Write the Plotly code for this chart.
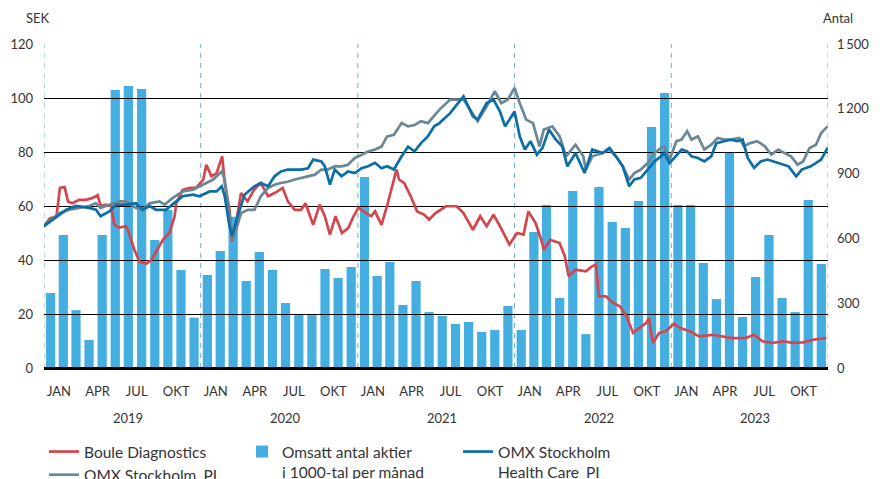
import pandas as pd
import plotly.graph_objects as go

# Omsatt antal aktier (1000-tal) per månad, jan 2019 - dec 2023
MONTHS = pd.date_range("2019-01-01", periods=60, freq="MS")
VOLUME = [
    347, 616, 268, 130, 616, 1287, 1306, 1292, 593, 731, 454, 233,
    430, 542, 700, 403, 537, 454, 301, 245, 245, 458, 417, 468,
    884, 426, 491, 292, 403, 259, 241, 204, 213, 167, 176, 287,
    176, 630, 755, 324, 819, 157, 838, 676, 648, 773, 1116, 1273,
    755, 755, 486, 319, 997, 236, 421, 616, 324, 259, 778, 481,
]

# Boule Diagnostics, SEK
BOULE_DATES = [
    "2019-01-01", "2019-01-15", "2019-01-30", "2019-02-07", "2019-02-18", "2019-02-26",
    "2019-03-08", "2019-03-24", "2019-04-09", "2019-04-24", "2019-05-06", "2019-05-13",
    "2019-05-25", "2019-06-06", "2019-06-14", "2019-06-25", "2019-07-11", "2019-07-18",
    "2019-07-30", "2019-08-11", "2019-08-27", "2019-09-08", "2019-09-19", "2019-10-05",
    "2019-10-20", "2019-11-01", "2019-11-05", "2019-11-20", "2019-12-06", "2019-12-21",
    "2020-01-07", "2020-01-14", "2020-01-26", "2020-02-07", "2020-02-20", "2020-02-26",
    "2020-03-08", "2020-03-14", "2020-03-23", "2020-04-04", "2020-04-19", "2020-05-04",
    "2020-05-20", "2020-06-06", "2020-06-21", "2020-07-10", "2020-07-22", "2020-08-07",
    "2020-08-22", "2020-09-01", "2020-09-19", "2020-10-04", "2020-10-16", "2020-10-28",
    "2020-11-10", "2020-11-25", "2020-12-10", "2020-12-22", "2021-01-02", "2021-01-19",
    "2021-02-01", "2021-02-10", "2021-02-25", "2021-03-10", "2021-03-19", "2021-04-01",
    "2021-04-07", "2021-04-19", "2021-05-04", "2021-05-19", "2021-06-04", "2021-06-16",
    "2021-07-01", "2021-07-25", "2021-08-19", "2021-09-04", "2021-09-26", "2021-10-13",
    "2021-10-28", "2021-11-13", "2021-11-28", "2021-12-20", "2022-01-07", "2022-01-22",
    "2022-02-02", "2022-02-19", "2022-03-04", "2022-03-10", "2022-03-25", "2022-04-16",
    "2022-04-28", "2022-05-07", "2022-05-23", "2022-06-16", "2022-07-01", "2022-07-10",
    "2022-07-16", "2022-08-02", "2022-08-19", "2022-09-04", "2022-09-19", "2022-10-04",
    "2022-10-19", "2022-11-04", "2022-11-10", "2022-11-19", "2022-12-04", "2022-12-19",
    "2023-01-07", "2023-01-22", "2023-02-13", "2023-03-07", "2023-04-07", "2023-05-01",
    "2023-05-22", "2023-06-23", "2023-07-13", "2023-08-01", "2023-08-25", "2023-09-19",
    "2023-10-10", "2023-11-04", "2023-11-28", "2023-12-28",
]
BOULE = [
    52.5, 55.5, 56, 66.7, 67, 61.7,
    61, 62.3, 62.3, 63, 64, 60,
    60.5, 60, 53, 52, 52.5, 50,
    44, 39.5, 38.6, 40, 43, 47.5,
    50, 56, 61, 66, 66.7, 66.7,
    69.8, 75.3, 71, 72.2, 78.4, 68.5,
    58.6, 47, 53.7, 64.8, 61.7, 66,
    68.5, 63.6, 64.8, 66.7, 61.7, 58.6,
    58.6, 61, 53, 60.5, 56.2, 49.4,
    56.2, 50, 51.9, 56.2, 59.3, 57.4,
    56.2, 58, 53, 60, 66, 73.5,
    69.8, 68.5, 63.6, 58, 56.8, 55,
    57.4, 59.9, 59.9, 57.4, 51.2, 56.2,
    52.5, 56.8, 52.5, 45.7, 50, 49.4,
    58, 53.7, 47.5, 43.8, 47.5, 46.3,
    41.4, 34, 36.4, 35.8, 37.7, 38.3,
    26.5, 26.5, 24.1, 22.8, 19.1, 13,
    14.8, 16.7, 18.5, 9.3, 13, 13.6,
    16.4, 14.8, 13.6, 11.7, 12.3, 11.7,
    11.1, 11.1, 12.3, 9.9, 9.3, 9.9,
    9.3, 9.5, 10.5, 11.1,
]

# OMX Stockholm_PI (indexerat)
OMX_DATES = [
    "2019-01-01", "2019-01-22", "2019-02-07", "2019-03-01", "2019-03-24", "2019-04-16",
    "2019-05-02", "2019-05-13", "2019-06-02", "2019-06-25", "2019-07-11", "2019-08-03",
    "2019-08-19", "2019-09-04", "2019-09-27", "2019-10-09", "2019-10-28", "2019-11-20",
    "2019-12-14", "2020-01-07", "2020-01-30", "2020-02-19", "2020-02-26", "2020-03-04",
    "2020-03-16", "2020-04-04", "2020-04-20", "2020-05-05", "2020-05-20", "2020-06-06",
    "2020-06-21", "2020-07-06", "2020-07-22", "2020-08-07", "2020-08-22", "2020-09-04",
    "2020-09-23", "2020-10-08", "2020-10-23", "2020-11-08", "2020-11-24", "2020-12-09",
    "2020-12-25", "2021-01-10", "2021-01-25", "2021-02-10", "2021-02-25", "2021-03-10",
    "2021-03-26", "2021-04-13", "2021-04-28", "2021-05-13", "2021-05-28", "2021-06-13",
    "2021-07-10", "2021-08-04", "2021-09-04", "2021-09-25", "2021-10-07", "2021-10-28",
    "2021-11-16", "2021-12-01", "2021-12-16", "2022-01-01", "2022-01-13", "2022-01-28",
    "2022-02-13", "2022-02-28", "2022-03-10", "2022-03-30", "2022-04-16", "2022-05-01",
    "2022-05-23", "2022-06-10", "2022-06-16", "2022-07-01", "2022-07-25", "2022-08-10",
    "2022-08-25", "2022-09-10", "2022-09-25", "2022-10-07", "2022-10-22", "2022-11-07",
    "2022-11-23", "2022-12-08", "2022-12-16", "2022-12-28", "2023-01-13", "2023-01-25",
    "2023-02-07", "2023-02-17", "2023-03-04", "2023-03-19", "2023-04-04", "2023-04-19",
    "2023-05-04", "2023-05-19", "2023-06-08", "2023-06-19", "2023-07-04", "2023-07-20",
    "2023-08-07", "2023-08-22", "2023-09-07", "2023-09-22", "2023-10-07", "2023-10-22",
    "2023-11-04", "2023-11-19", "2023-12-04", "2023-12-16", "2023-12-31",
]
OMX = [
    52.5, 55.5, 57.4, 58.6, 59.3, 60,
    61, 59.3, 60.5, 61.7, 61.7, 59.3,
    58.6, 61, 61.7, 60.5, 63, 65.4,
    66, 67.9, 69.8, 72.8, 69.8, 61,
    47.5, 57.4, 58.6, 58.6, 63.6, 66.7,
    67.9, 68.5, 69, 69.8, 70.4, 71,
    71.6, 73.5, 73.5, 74.7, 74.7, 75.3,
    77.8, 79, 80.2, 80.9, 82, 85.8,
    86.4, 90.7, 89.5, 90, 91.4, 90.7,
    95.7, 99.4, 99.4, 94.4, 91.4, 96.9,
    102.5, 98.1, 99.4, 103.7, 98.1, 92,
    90.7, 82.1, 88.3, 89.5, 85.8, 78.4,
    82.7, 78.4, 73.5, 78.4, 79.6, 80.9,
    78.4, 74.7, 69.8, 72.2, 73.5, 75.9,
    79.6, 81.5, 82.1, 77.2, 84, 84.6,
    87.7, 84.6, 85.8, 80.9, 82.7, 85.2,
    84.6, 84.6, 85.2, 82.1, 83.3, 84,
    82.1, 79, 80.9, 79.6, 78.4, 75.3,
    76.5, 81.5, 82.7, 87, 89.5,
]

# OMX Stockholm Health Care_PI (indexerat)
HC_DATES = [
    "2019-01-01", "2019-01-22", "2019-02-22", "2019-03-16", "2019-04-16", "2019-05-02",
    "2019-05-13", "2019-06-02", "2019-06-18", "2019-07-11", "2019-08-03", "2019-08-19",
    "2019-09-04", "2019-09-19", "2019-10-12", "2019-11-05", "2019-11-20", "2019-12-14",
    "2019-12-29", "2020-01-22", "2020-02-07", "2020-02-19", "2020-02-26", "2020-03-08",
    "2020-03-14", "2020-03-27", "2020-04-12", "2020-05-05", "2020-05-20", "2020-06-06",
    "2020-06-21", "2020-07-06", "2020-07-22", "2020-08-22", "2020-09-07", "2020-09-19",
    "2020-10-08", "2020-10-16", "2020-10-28", "2020-11-08", "2020-11-24", "2020-12-09",
    "2020-12-25", "2021-01-10", "2021-01-25", "2021-02-10", "2021-02-25", "2021-03-10",
    "2021-03-26", "2021-04-13", "2021-04-28", "2021-05-13", "2021-05-28", "2021-06-13",
    "2021-06-28", "2021-07-10", "2021-08-04", "2021-09-04", "2021-09-26", "2021-10-07",
    "2021-10-28", "2021-11-13", "2021-11-28", "2021-12-10", "2021-12-20", "2022-01-01",
    "2022-01-13", "2022-01-25", "2022-02-07", "2022-02-22", "2022-03-07", "2022-03-22",
    "2022-04-07", "2022-04-22", "2022-05-04", "2022-05-23", "2022-06-13", "2022-07-01",
    "2022-07-25", "2022-08-10", "2022-08-25", "2022-09-10", "2022-09-25", "2022-10-07",
    "2022-10-22", "2022-11-07", "2022-11-23", "2022-12-08", "2022-12-16", "2022-12-28",
    "2023-01-13", "2023-01-25", "2023-02-07", "2023-02-17", "2023-03-04", "2023-03-19",
    "2023-04-04", "2023-04-16", "2023-05-04", "2023-05-19", "2023-06-04", "2023-06-16",
    "2023-06-28", "2023-07-13", "2023-07-28", "2023-08-13", "2023-09-07", "2023-10-01",
    "2023-10-19", "2023-11-01", "2023-11-22", "2023-12-16", "2023-12-31",
]
HC = [
    52.5, 55, 58.6, 60, 59.3, 58.6,
    56.2, 58, 60.5, 60.5, 61, 58.6,
    60, 58.6, 58.6, 61.7, 63.6, 64.2,
    63.6, 65.4, 65.4, 67.3, 63.6, 52.5,
    48.8, 56.2, 64.2, 67.3, 68.5, 67.3,
    71, 72.8, 73.5, 73.5, 74, 77.2,
    76.5, 74.7, 67.9, 73.5, 71, 72.8,
    72.2, 74, 74.7, 76, 74, 74.7,
    73.5, 78.4, 82, 80.2, 83.3, 85.8,
    89.5, 90.7, 94.4, 100.6, 93.2, 92,
    98.1, 99.4, 95, 89.5, 92, 95,
    85.8, 80.9, 84, 79, 81.5, 88.3,
    84.6, 82.1, 74.7, 79.6, 72.2, 80.9,
    79.6, 81.5, 78.4, 74.7, 67.3, 69.8,
    70.4, 73.5, 76.5, 78.4, 79.6, 75.9,
    79, 80.9, 80.2, 78.4, 77.8, 76.5,
    78.4, 83.3, 84, 84.6, 84, 84.6,
    77.8, 74.1, 76.5, 77.2, 75.9, 74.7,
    71, 73.5, 74.7, 77.2, 81.5,
]

YEARS = [2019, 2020, 2021, 2022, 2023]
MONTH_NAMES = ["JAN", "APR", "JUL", "OKT"]
SEK_TICKS = [0, 20, 40, 60, 80, 100, 120]
ANTAL_TICKS = [0, 300, 600, 900, 1200, 1500]
ANTAL_TEXT = ["0", "300", "600", "900", "1\u2009200", "1\u2009500"]

FONT = "Lato"
TXT = "#333333"

fig = go.Figure()

# staplar i första subplot (under rutnätet)
fig.add_trace(go.Bar(
    x=MONTHS, y=VOLUME, xperiod="M1", xperiodalignment="middle",
    width=21.5 * 24 * 3600 * 1000,
    marker=dict(color="#45aee1", line=dict(width=0)),
    name="Omsatt antal aktier<br>i 1000-tal per månad",
    xaxis="x", yaxis="y", legend="legend2",
))

# linjer i andra subplot (ovanpå rutnätet)
fig.add_trace(go.Scatter(
    x=BOULE_DATES, y=BOULE, mode="lines", line=dict(color="#d4464d", width=2.7),
    name="Boule Diagnostics", xaxis="x2", yaxis="y2", legend="legend",
))
fig.add_trace(go.Scatter(
    x=OMX_DATES, y=OMX, mode="lines", line=dict(color="#6a8795", width=2.7),
    name="OMX Stockholm_PI", xaxis="x2", yaxis="y2", legend="legend",
))
fig.add_trace(go.Scatter(
    x=HC_DATES, y=HC, mode="lines", line=dict(color="#0b6ea6", width=2.7),
    name="OMX Stockholm<br>Health Care_PI", xaxis="x2", yaxis="y2", legend="legend3",
))

x_range = ["2019-01-01", "2024-01-01"]
tickvals = [f"{y}-{m:02d}-01" for y in YEARS for m in (1, 4, 7, 10)]
ticktext = MONTH_NAMES * len(YEARS)

# streckade årslinjer
for y in YEARS + [2024]:
    fig.add_shape(type="line", xref="x", yref="paper", x0=f"{y}-01-01", x1=f"{y}-01-01",
                  y0=0, y1=1, layer="below",
                  line=dict(color="#6aaed8", width=1, dash="5px,5px"))

# årtal under månaderna
for y in YEARS:
    fig.add_annotation(text=str(y), x=f"{y}-07-16", xref="x", y=-0.154, yref="paper",
                       yanchor="middle", showarrow=False,
                       font=dict(size=13, color=TXT, family=FONT))

fig.add_annotation(text="SEK", x=-0.026, y=1.08, xref="paper", yref="paper",
                   yanchor="middle", showarrow=False,
                   font=dict(size=13, color=TXT, family=FONT))
fig.add_annotation(text="Antal", x=1.034, y=1.08, xref="paper", yref="paper",
                   yanchor="middle", showarrow=False,
                   font=dict(size=13, color=TXT, family=FONT))

# legender placerade mot hela bilden så att de inte trycker ihop diagrammet
legend_common = dict(
    orientation="v", xanchor="left", yanchor="top", valign="top",
    xref="container", yref="container",
    bgcolor="rgba(0,0,0,0)", font=dict(size=15.5, color=TXT, family=FONT),
    itemwidth=30, tracegroupgap=0,
)

# sidan har 8 px marginal i webbläsaren, därför något mindre vänster/övre marginal
fig.update_layout(
    width=885, height=479,
    margin=dict(l=36, r=65, t=36, b=119, autoexpand=False),
    paper_bgcolor="white", plot_bgcolor="rgba(0,0,0,0)",
    font=dict(family=FONT, color=TXT, size=13),
    barmode="overlay",
    showlegend=True,
    legend=dict(x=0.0407, y=0.1086, **legend_common),
    legend2=dict(x=0.2644, y=0.1086, **legend_common),
    legend3=dict(x=0.5085, y=0.1086, **legend_common),
    xaxis=dict(
        type="date", range=x_range, domain=[0, 1], anchor="y",
        tickvals=tickvals, ticktext=ticktext, ticks="", showgrid=False,
        ticklabelshift=15, ticklabelstandoff=14,
        tickfont=dict(size=13, color=TXT), showline=False, zeroline=False,
    ),
    yaxis=dict(
        range=[0, 1500], side="right", anchor="x", domain=[0, 1],
        tickvals=ANTAL_TICKS, ticktext=ANTAL_TEXT, ticks="", showgrid=False,
        zeroline=False, ticklabelstandoff=8, tickfont=dict(size=13, color=TXT),
    ),
    xaxis2=dict(
        type="date", range=x_range, domain=[0, 1], anchor="y2", matches="x",
        showticklabels=False, ticks="", showgrid=False, zeroline=False,
    ),
    yaxis2=dict(
        range=[0, 120], side="left", anchor="x2", domain=[0, 1],
        tickvals=SEK_TICKS, ticks="", showgrid=True, gridcolor="black", gridwidth=1.2,
        zeroline=True, zerolinecolor="black", zerolinewidth=2.5,
        ticklabelstandoff=10, tickfont=dict(size=13, color=TXT),
    ),
)

fig.write_html("out.html")
